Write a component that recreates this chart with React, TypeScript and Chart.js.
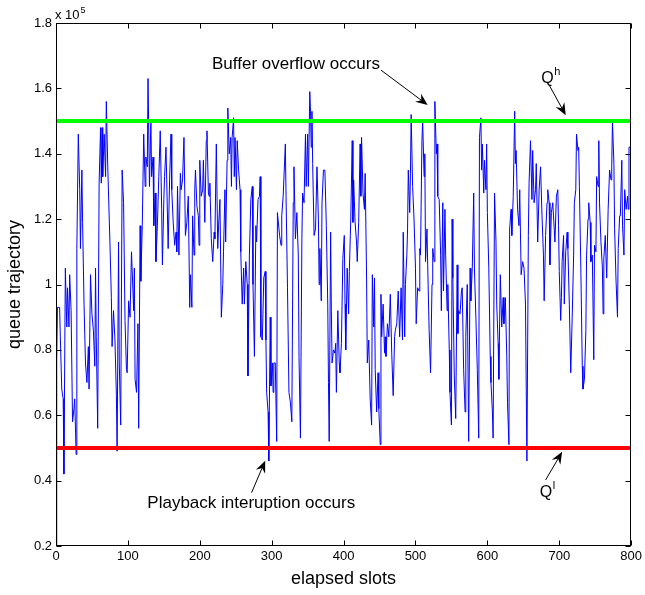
import { useEffect, useRef } from "react";
import { Chart, registerables } from "chart.js";

Chart.register(...registerables);

// elapsed slot index of each traced sample
const slots = [
  0, 1, 2, 5, 6, 8, 10, 11, 13, 15, 16, 18, 19, 21, 23, 25, 26, 28, 29, 31, 33, 34, 36, 37, 39, 41, 43, 45, 46, 48,
  50, 52, 54, 55, 56, 58, 60, 62, 63, 64, 65, 67, 69, 70, 72, 75, 77, 78, 80, 82, 84, 85, 87, 88, 90, 92, 94, 96, 98, 99,
  101, 103, 105, 108, 109, 110, 112, 114, 115, 117, 118, 120, 122, 124, 125, 127, 128, 130, 132, 133, 135, 136, 138, 139,
  141, 143, 145, 147, 148, 150, 151, 153, 154, 156, 158, 160, 161, 163, 165, 167, 168, 169, 171, 173, 174, 176, 178, 180,
  182, 184, 186, 187, 189, 190, 192, 193, 194, 196, 198, 199, 200, 202, 204, 205, 207, 209, 210, 212, 213, 214, 216, 218,
  220, 221, 223, 225, 226, 228, 230, 232, 233, 235, 236, 238, 239, 241, 243, 244, 245, 247, 248, 249, 251, 252, 254, 256,
  257, 259, 261, 262, 264, 266, 267, 269, 271, 273, 274, 276, 278, 279, 281, 283, 284, 285, 287, 289, 291, 292, 293, 295,
  296, 298, 299, 301, 302, 303, 305, 307, 308, 311, 313, 314, 316, 319, 320, 322, 324, 326, 328, 330, 331, 333, 335, 337,
  338, 340, 342, 343, 345, 347, 348, 350, 351, 353, 354, 355, 356, 357, 359, 361, 363, 365, 366, 367, 369, 370, 372, 374,
  376, 378, 379, 380, 382, 383, 384, 386, 388, 389, 390, 392, 394, 395, 397, 399, 401, 402, 403, 405, 407, 408, 410, 412,
  413, 414, 416, 418, 419, 421, 423, 424, 425, 427, 429, 430, 432, 433, 435, 437, 439, 440, 442, 443, 444, 446, 448, 449,
  451, 452, 453, 455, 457, 458, 459, 461, 463, 465, 467, 469, 471, 472, 474, 476, 478, 480, 482, 483, 485, 486, 488, 489,
  490, 492, 493, 494, 496, 498, 500, 501, 503, 505, 506, 507, 509, 510, 512, 513, 514, 516, 517, 519, 521, 523, 524, 526,
  527, 529, 530, 531, 533, 535, 536, 538, 539, 541, 542, 544, 545, 547, 548, 550, 551, 552, 554, 556, 558, 559, 560, 562,
  564, 565, 567, 569, 570, 572, 574, 576, 577, 579, 581, 582, 584, 586, 588, 589, 591, 592, 593, 595, 596, 598, 599, 600,
  602, 604, 605, 607, 608, 610, 612, 613, 615, 616, 618, 620, 622, 623, 625, 627, 628, 630, 631, 633, 634, 636, 638, 639,
  640, 642, 644, 645, 647, 649, 651, 653, 655, 657, 658, 660, 662, 663, 665, 667, 668, 670, 672, 674, 676, 678, 679, 681,
  683, 684, 686, 687, 689, 691, 692, 694, 696, 698, 699, 700, 702, 703, 704, 706, 707, 709, 711, 712, 714, 716, 718, 720,
  721, 723, 724, 726, 727, 728, 730, 732, 733, 735, 737, 738, 740, 741, 743, 744, 746, 748, 749, 751, 752, 754, 755, 756,
  758, 760, 761, 762, 764, 766, 768, 770, 772, 773, 774, 776, 777, 779, 781, 782, 784, 785, 787, 788, 790, 791, 793, 795,
  796, 797, 800,
];

// queue trajectory, in units of 10^5
const queue = [
  0.2, 0.77, 0.93, 0.93, 0.84, 0.68, 0.65, 0.42, 1.05, 0.87, 0.99, 0.87, 1.03, 0.92, 0.58, 0.62, 0.65, 0.48, 1.11, 1.46, 1.29, 1.11, 1.35, 1.19, 0.94, 0.76, 0.7, 0.81, 0.68, 1.03,
  0.91, 0.86, 0.75, 1.05, 0.84, 0.56, 1.31, 1.48, 1.31, 1.48, 1.33, 1.46, 1.33, 1.56, 1.36, 1.13, 0.96, 0.81, 0.92, 0.83, 0.66, 0.49, 1.13, 0.76, 0.57, 1.35, 1.25, 0.89, 0.74, 0.73,
  0.95, 0.9, 1.1, 0.92, 1.05, 0.71, 0.67, 0.88, 0.56, 1.18, 1.01, 1.18, 1.46, 1.3, 1.39, 1.36, 1.63, 1.3, 1.5, 1.33, 1.39, 1.18, 1.28, 1.07,
  1.18, 1.33, 1.47, 1.23, 1.06, 1.26, 1.33, 1.42, 1.32, 1.11, 1.32, 1.46, 1.29, 1.19, 1.12, 1.16, 1.1, 1.3, 1.09, 1.34, 1.29, 1.32, 1.45, 1.15,
  1.19, 1.27, 0.93, 1.03, 0.93, 1.21, 1.09, 1.29, 1.35, 1.24, 1.21, 1.12, 1.38, 1.27, 1.29, 1.38, 1.19, 1.44, 1.47, 1.28, 1.27, 1.31, 1.14, 1.07,
  1.16, 1.14, 1.43, 1.11, 1.17, 1.26, 0.9, 1.0, 1.1, 1.29, 1.13, 1.38, 1.54, 1.4, 1.45, 1.3, 1.45, 1.51, 1.33, 1.45, 1.29, 1.44, 1.35, 1.29,
  1.1, 0.94, 1.05, 0.94, 1.07, 1.0, 0.72, 1.09, 1.26, 1.3, 1.0, 0.78, 1.18, 1.13, 1.26, 1.27, 1.33, 0.84, 0.83, 1.02, 1.04, 0.83, 0.67, 0.61,
  0.46, 0.9, 0.69, 0.76, 0.67, 0.76, 0.76, 0.52, 1.22, 1.15, 1.12, 1.21, 1.27, 1.43, 1.27, 0.99, 0.67, 0.64, 0.58, 1.25, 1.36, 1.14, 1.22, 1.09,
  0.78, 0.53, 1.14, 1.28, 1.25, 1.46, 1.3, 1.46, 1.3, 1.59, 1.53, 1.42, 1.53, 1.37, 1.15, 1.17, 1.36, 1.2, 1.0, 1.11, 0.95, 1.25, 1.35, 1.35,
  1.18, 0.94, 0.7, 0.52, 1.16, 0.92, 0.76, 0.8, 0.79, 0.82, 0.67, 0.92, 0.76, 0.73, 0.82, 1.08, 1.15, 0.94, 0.8, 1.05, 0.91, 1.04, 1.2, 1.44,
  1.19, 1.32, 1.19, 1.13, 1.07, 1.19, 1.43, 1.27, 1.45, 1.28, 1.23, 1.34, 1.02, 0.76, 0.83, 0.65, 0.57, 1.03, 0.87, 1.02, 0.74, 0.61, 0.73, 0.62,
  0.51, 0.97, 0.84, 0.94, 0.79, 0.84, 0.78, 0.88, 0.84, 0.97, 0.79, 0.66, 0.84, 0.86, 0.88, 0.98, 0.84, 0.99, 0.83, 1.16, 0.84, 1.0, 1.09, 1.17,
  1.35, 1.22, 1.34, 1.52, 1.3, 1.2, 1.05, 0.88, 0.99, 0.98, 1.11, 1.09, 1.44, 1.5, 1.33, 1.4, 1.07, 1.17, 1.06, 0.86, 0.73, 1.0, 1.11, 1.07,
  1.56, 1.4, 1.43, 1.27, 1.26, 1.09, 0.92, 1.25, 0.98, 1.23, 1.09, 0.92, 1.0, 0.8, 0.67, 0.57, 1.2, 1.02, 0.72, 0.59, 1.06, 0.85, 0.92, 0.91,
  0.98, 0.99, 0.74, 0.61, 0.84, 1.0, 0.52, 1.05, 0.95, 1.05, 1.28, 1.05, 0.9, 0.74, 0.53, 1.45, 1.51, 1.35, 1.43, 1.28, 1.38, 1.29, 1.43, 1.22,
  1.05, 0.78, 0.7, 0.61, 0.53, 1.28, 1.13, 0.94, 0.82, 0.71, 1.03, 0.87, 0.96, 0.88, 0.96, 0.78, 0.64, 0.51, 1.17, 1.23, 1.15, 1.27, 1.53, 1.37,
  1.41, 1.23, 1.18, 1.29, 1.03, 1.07, 1.05, 0.94, 0.46, 1.15, 1.31, 1.44, 1.26, 1.41, 1.25, 1.29, 1.37, 1.13, 1.29, 1.36, 1.21, 1.09, 0.95, 1.15,
  1.25, 1.29, 1.25, 1.06, 1.22, 1.25, 1.21, 1.13, 1.27, 1.29, 1.18, 1.04, 0.89, 0.96, 1.07, 1.15, 0.94, 1.1, 1.16, 1.11, 0.94, 0.73, 0.9, 1.09,
  1.25, 1.29, 1.46, 1.41, 1.42, 1.3, 1.05, 0.75, 0.68, 0.71, 0.86, 1.09, 1.2, 1.25, 1.19, 1.07, 1.09, 0.77, 1.12, 1.1, 1.33, 1.3, 1.44, 1.25,
  1.13, 1.05, 0.91, 1.08, 1.15, 1.02, 1.23, 1.35, 1.32, 1.36, 1.5, 1.37, 1.17, 1.01, 0.9, 1.11, 1.21, 1.21, 1.38, 1.18, 1.09, 1.29, 1.23, 1.27,
  1.23, 1.42, 1.42,
];

const xTickValues = [0, 100, 200, 300, 400, 500, 600, 700, 800];
const yTickValues = [0.2, 0.4, 0.6, 0.8, 1.0, 1.2, 1.4, 1.6, 1.8];
const highThreshold = 1.5; // Q^h
const lowThreshold = 0.5; // Q^l
const xLimits = [0, 800];
const yLimits = [0.2, 1.8];

const FONT = '"Liberation Sans", Arial, Helvetica, sans-serif';

function drawArrow(ctx: CanvasRenderingContext2D, x1: number, y1: number, x2: number, y2: number) {
  const dx = x2 - x1;
  const dy = y2 - y1;
  const len = Math.hypot(dx, dy);
  const ux = dx / len;
  const uy = dy / len;
  const nx = -uy;
  const ny = ux;
  const hl = 12;
  const hw = 5;
  const notch = 8;
  ctx.beginPath();
  ctx.moveTo(x1, y1);
  ctx.lineTo(x2 - ux * notch, y2 - uy * notch);
  ctx.stroke();
  ctx.beginPath();
  ctx.moveTo(x2, y2);
  ctx.lineTo(x2 - ux * hl + nx * hw, y2 - uy * hl + ny * hw);
  ctx.lineTo(x2 - ux * notch, y2 - uy * notch);
  ctx.lineTo(x2 - ux * hl - nx * hw, y2 - uy * hl - ny * hw);
  ctx.closePath();
  ctx.fill();
}

const decorPlugin = {
  id: "decor",
  afterDraw(chart: any) {
    const { ctx, chartArea: a } = chart;
    const xs = chart.scales.x;
    const ys = chart.scales.y;
    const L = Math.round(a.left) + 0.5;
    const R = Math.round(a.right) - 0.5;
    const T = Math.round(a.top) + 0.5;
    const B = Math.round(a.bottom) - 0.5;
    ctx.save();
    ctx.strokeStyle = "#000";
    ctx.fillStyle = "#000";
    ctx.lineWidth = 1;
    ctx.strokeRect(L, T, R - L, B - T);
    const tl = 5;
    ctx.beginPath();
    for (const v of xTickValues) {
      const px = Math.round(xs.getPixelForValue(v)) + 0.5;
      ctx.moveTo(px, B);
      ctx.lineTo(px, B - tl);
      ctx.moveTo(px, T);
      ctx.lineTo(px, T + tl);
    }
    for (const v of yTickValues) {
      const py = Math.round(ys.getPixelForValue(v)) + 0.5;
      ctx.moveTo(L, py);
      ctx.lineTo(L + tl, py);
      ctx.moveTo(R, py);
      ctx.lineTo(R - tl, py);
    }
    ctx.stroke();

    // exponent label
    ctx.textBaseline = "alphabetic";
    ctx.textAlign = "left";
    ctx.font = `13px ${FONT}`;
    const ex = a.left - 1;
    ctx.fillText("x 10", ex, 18.5);
    const w = ctx.measureText("x 10").width;
    ctx.font = `9px ${FONT}`;
    ctx.fillText("5", ex + w + 1, 13);

    // axis titles
    ctx.font = `18px ${FONT}`;
    ctx.textAlign = "center";
    ctx.fillText("elapsed slots", (a.left + a.right) / 2, 584);
    ctx.save();
    ctx.translate(20, (a.top + a.bottom) / 2);
    ctx.rotate(-Math.PI / 2);
    ctx.fillText("queue trajectory", 0, 0);
    ctx.restore();

    // annotations
    const X = (v: number) => xs.getPixelForValue(v);
    const Y = (v: number) => ys.getPixelForValue(v);
    ctx.textAlign = "left";
    ctx.font = `17px ${FONT}`;
    ctx.fillText("Buffer overflow occurs", X(217), Y(1.659));
    ctx.fillText("Playback interuption occurs", X(127), Y(0.317));

    ctx.font = `16px ${FONT}`;
    ctx.fillText("Q", X(675), Y(1.616));
    const qw = ctx.measureText("Q").width;
    ctx.font = `11px ${FONT}`;
    ctx.fillText("h", X(675) + qw + 0.5, Y(1.64));
    ctx.font = `16px ${FONT}`;
    ctx.fillText("Q", X(673), Y(0.35));
    ctx.font = `11px ${FONT}`;
    ctx.fillText("l", X(673) + qw + 0.5, Y(0.374));

    ctx.lineWidth = 1;
    drawArrow(ctx, X(452), Y(1.656), X(517), Y(1.549));
    drawArrow(ctx, X(686), Y(1.61), X(709), Y(1.518));
    drawArrow(ctx, X(272), Y(0.363), X(291), Y(0.461));
    drawArrow(ctx, X(681), Y(0.402), X(704), Y(0.488));
    ctx.restore();
  },
};

export default function App() {
  const ref = useRef<HTMLCanvasElement>(null);
  useEffect(() => {
    const canvas = ref.current;
    if (!canvas) return;
    const chart = new Chart(canvas, {
      type: "line",
      data: {
        datasets: [
          {
            data: [
              { x: xLimits[0], y: highThreshold },
              { x: xLimits[1], y: highThreshold },
            ],
            borderColor: "#00ff00",
            borderWidth: 4,
            pointRadius: 0,
          },
          {
            data: [
              { x: xLimits[0], y: lowThreshold },
              { x: xLimits[1], y: lowThreshold },
            ],
            borderColor: "#ff0000",
            borderWidth: 4,
            pointRadius: 0,
          },
          {
            data: slots.map((s, i) => ({ x: s, y: queue[i] })),
            borderColor: "#0000ff",
            borderWidth: 1,
            pointRadius: 0,
            tension: 0,
          },
        ],
      },
      options: {
        animation: false,
        responsive: false,
        events: [],
        layout: { padding: { top: 23, right: 10, left: 0, bottom: 0 } },
        plugins: { legend: { display: false }, tooltip: { enabled: false } },
        scales: {
          x: {
            type: "linear",
            min: xLimits[0],
            max: xLimits[1],
            afterBuildTicks: (s: any) => {
              s.ticks = xTickValues.map((v) => ({ value: v }));
            },
            afterFit: (s: any) => {
              s.height = 49;
            },
            grid: { display: false, drawTicks: false },
            border: { display: false },
            ticks: {
              color: "#000",
              font: { family: FONT, size: 13 },
              padding: 3,
              maxRotation: 0,
              autoSkip: false,
            },
          },
          y: {
            type: "linear",
            min: yLimits[0],
            max: yLimits[1],
            afterBuildTicks: (s: any) => {
              s.ticks = yTickValues.map((v) => ({ value: v }));
            },
            afterFit: (s: any) => {
              s.width = 56;
            },
            grid: { display: false, drawTicks: false },
            border: { display: false },
            ticks: {
              color: "#000",
              font: { family: FONT, size: 13 },
              padding: 4,
              autoSkip: false,
              callback: (v: any) => String(Math.round(Number(v) * 10) / 10),
            },
          },
        },
      },
      plugins: [decorPlugin],
    });
    return () => chart.destroy();
  }, []);
  return (
    <div style={{ position: "absolute", left: 0, top: 0, width: 645, height: 595, background: "#fff" }}>
      <canvas ref={ref} width={645} height={595} style={{ display: "block" }} />
    </div>
  );
}
